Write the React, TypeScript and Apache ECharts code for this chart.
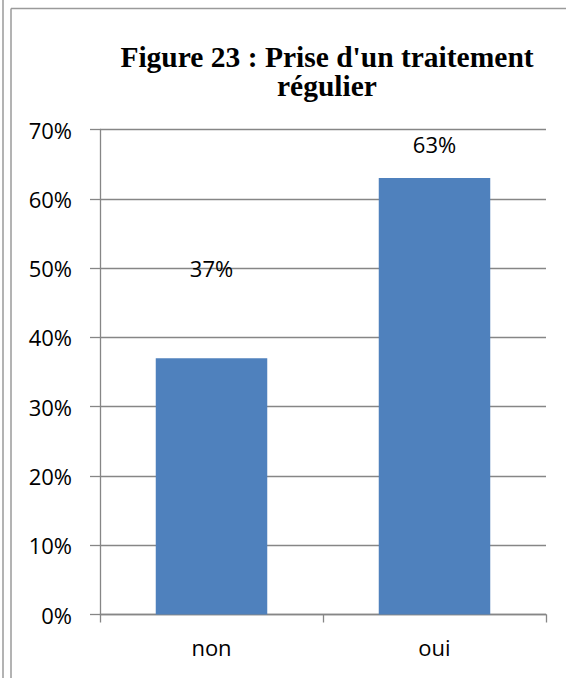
import React, { useEffect, useRef } from "react";
import * as echarts from "echarts";

const categories = ["non", "oui"];
const values = [37, 63];
const labelDistances = [79, 23];
const yTicks = [0, 10, 20, 30, 40, 50, 60, 70];
const titleText = "Figure 23 : Prise d'un traitement\nrégulier";

export default function App() {
  const ref = useRef<HTMLDivElement>(null);
  useEffect(() => {
    const chart = echarts.init(ref.current!, null, { renderer: "svg" });
    const grey = "#868686";
    chart.setOption({
      animation: false,
      backgroundColor: "#ffffff",
      title: {
        text: titleText,
        left: 322,
        top: 37,
        textAlign: "center",
        textStyle: {
          fontFamily: "Liberation Serif",
          fontWeight: "bold",
          fontSize: 29.5,
          lineHeight: 29,
          color: "#000",
        },
      },
      graphic: [
        { type: "line", shape: { x1: 3, y1: 0, x2: 3, y2: 678 }, style: { stroke: "#9a9a9a", lineWidth: 1.5 } },
        { type: "line", shape: { x1: 11, y1: 8.5, x2: 566, y2: 8.5 }, style: { stroke: "#9a9a9a", lineWidth: 1.5 } },
        { type: "line", shape: { x1: 11, y1: 8.5, x2: 11, y2: 678 }, style: { stroke: "#9a9a9a", lineWidth: 1.5 } },
      ],
      grid: { left: 100, right: 20, top: 129.5, bottom: 63.5, containLabel: false },
      xAxis: {
        type: "category",
        data: categories,
        axisLine: { lineStyle: { color: grey, width: 1.3 } },
        axisTick: { show: true, length: 8, alignWithLabel: false, lineStyle: { color: grey, width: 1.3 } },
        axisLabel: { fontFamily: "Open Sans", fontSize: 22, color: "#000", margin: 21 },
      },
      yAxis: {
        type: "value",
        min: 0,
        max: 70,
        interval: 10,
        axisLine: { show: true, lineStyle: { color: grey, width: 1.3 } },
        axisTick: { show: true, length: 10, lineStyle: { color: grey, width: 1.3 } },
        splitLine: { show: true, lineStyle: { color: grey, width: 1.3 } },
        axisLabel: {
          fontFamily: "Open Sans",
          fontSize: 22,
          color: "#000",
          margin: 28,
          formatter: (v: number) => (yTicks.includes(v) ? v + "%" : ""),
        },
      },
      series: [
        {
          type: "bar",
          barWidth: "50%",
          itemStyle: { color: "#4F81BD" },
          data: values.map((v, i) => ({
            value: v,
            label: {
              show: true,
              position: "top",
              distance: labelDistances[i],
              formatter: "{c}%",
              fontFamily: "Open Sans",
              fontSize: 22,
              color: "#000",
            },
          })),
        },
      ],
    });
    return () => chart.dispose();
  }, []);
  return <div ref={ref} style={{ position: "fixed", left: 0, top: 0, width: 566, height: 678 }} />;
}
